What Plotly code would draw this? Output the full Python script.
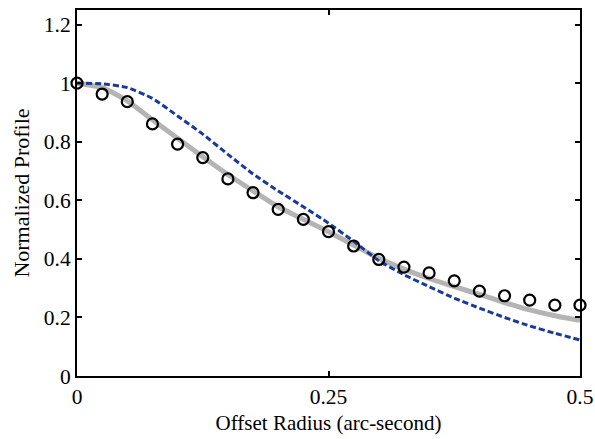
import plotly.graph_objects as go

# Data
x_obs = [0, 0.025, 0.05, 0.075, 0.1, 0.125, 0.15, 0.175, 0.2, 0.225, 0.25,
         0.275, 0.3, 0.325, 0.35, 0.375, 0.4, 0.425, 0.45, 0.475, 0.5]
y_obs = [1.0, 0.963, 0.937, 0.861, 0.792, 0.746, 0.673, 0.626, 0.569, 0.535, 0.493,
         0.444, 0.398, 0.372, 0.352, 0.325, 0.290, 0.274, 0.259, 0.242, 0.242]

x_model = [0, 0.025, 0.05, 0.075, 0.1, 0.125, 0.15, 0.175, 0.2, 0.225, 0.25,
           0.275, 0.3, 0.325, 0.35, 0.375, 0.4, 0.425, 0.45, 0.475, 0.5]
y_gray = [1.0, 0.985, 0.94, 0.875, 0.812, 0.749, 0.688, 0.632, 0.578, 0.535, 0.493,
          0.447, 0.402, 0.365, 0.333, 0.305, 0.279, 0.251, 0.226, 0.206, 0.190]
y_blue = [1.0, 0.998, 0.985, 0.948, 0.888, 0.826, 0.757, 0.690, 0.632, 0.578, 0.522,
          0.460, 0.394, 0.346, 0.305, 0.266, 0.232, 0.200, 0.171, 0.146, 0.123]

x_ticks = [0, 0.25, 0.5]
x_ticktext = ["0", "0.25", "0.5"]
y_ticks = [0, 0.2, 0.4, 0.6, 0.8, 1.0, 1.2]
y_ticktext = ["0", "0.2", "0.4", "0.6", "0.8", "1", "1.2"]

font_family = "Liberation Serif"

fig = go.Figure()
fig.add_trace(go.Scatter(
    x=x_model, y=y_gray, mode="lines",
    line=dict(color="#b4b4b4", width=5, shape="spline", smoothing=0.6),
    showlegend=False))
fig.add_trace(go.Scatter(
    x=x_model, y=y_blue, mode="lines",
    line=dict(color="#1a3a9a", width=3, dash="6px,3px", shape="spline", smoothing=0.6),
    showlegend=False))
fig.add_trace(go.Scatter(
    x=x_obs, y=y_obs, mode="markers",
    marker=dict(symbol="circle-open", size=11, color="black", line=dict(width=2.2)),
    showlegend=False, cliponaxis=False))

axis_common = dict(
    showline=True, linecolor="black", linewidth=2, mirror="ticks",
    ticks="inside", ticklen=5, tickwidth=2, tickcolor="black",
    showgrid=False, zeroline=False, automargin=False,
    tickfont=dict(family=font_family, size=21.5, color="black"),
)

fig.update_layout(
    width=595, height=439,
    margin=dict(l=77, r=15, t=10, b=63),
    paper_bgcolor="white", plot_bgcolor="white",
    font=dict(family=font_family, size=21, color="black"),
    xaxis=dict(range=[0, 0.5], tickvals=x_ticks, ticktext=x_ticktext,
               title=dict(text="Offset Radius (arc-second)", standoff=8,
                          font=dict(family=font_family, size=21)),
               **axis_common),
    yaxis=dict(range=[0, 1.25], tickvals=y_ticks, ticktext=y_ticktext,
               title=dict(text="Normalized Profile", standoff=8,
                          font=dict(family=font_family, size=22)),
               **axis_common),
)

fig.write_html("out.html")
